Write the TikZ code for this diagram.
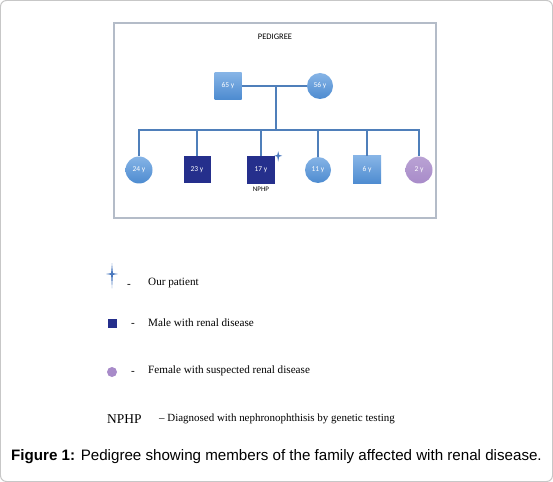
\documentclass[tikz,border=0pt]{standalone}
\usepackage{fontspec}
\setmainfont{Liberation Serif}
\newfontfamily\capfont{Liberation Sans}
\newfontfamily\boxfont{Carlito}
\usetikzlibrary{positioning,calc}
\definecolor{linkblue}{HTML}{4F7FBA}
\definecolor{frameblue}{HTML}{B4BCC8}
\definecolor{navy}{HTML}{252F8C}
\definecolor{lightblue}{HTML}{86B4E6}
\definecolor{midblue}{HTML}{4D8BD0}
\definecolor{lilac}{HTML}{A88BC9}
\definecolor{starblue}{HTML}{4A78BE}

\tikzset{
  person/.style={inner sep=0pt, text=white, font=\boxfont\fontsize{7.5}{8}\selectfont},
  boy/.style={person, rectangle, minimum size=27bp, top color=lightblue, bottom color=midblue},
  girl/.style={person, circle, minimum size=27bp, top color=lightblue, bottom color=midblue},
  sickboy/.style={person, rectangle, minimum size=27bp, fill=navy},
  sickgirl/.style={person, circle, minimum size=27bp, top color=lilac!80!white, bottom color=lilac},
  link/.style={draw=linkblue, line width=1.3bp},
  legend/.style={anchor=west, font=\fontsize{11.2}{13}\selectfont, inner sep=0pt},
}
\newcommand{\patientmark}[3]{%
  \fill[starblue] (#1) ++(0,-#2) -- ++(0.9,#2-0.9) -- ++(#3-0.9,0.9) -- ++(-#3+0.9,0.9)
    -- ++(-0.9,#2*1.3-0.9) -- ++(-0.9,-#2*1.3+0.9) -- ++(-#3+0.9,-0.9) -- ++(#3-0.9,-0.9) -- cycle;}

\begin{document}
\begin{tikzpicture}[x=1bp,y=-1bp]
    \useasboundingbox (0,0) rectangle (553,482);
    \draw[black!22, line width=1bp, rounded corners=6bp] (0.5,0.5) rectangle (552.5,481.5);
    \draw[frameblue, line width=1.4bp] (114,23) rectangle (436,218);
    \node[font=\boxfont\fontsize{8.5}{9}\selectfont] (T) at (275,37) {PEDIGREE};

    \node[boy] (F) at (228,86) {65 y};
    \node[girl, minimum size=26bp] (M) at (320,86) {56 y};
    \coordinate (J) at (276,130);

    \node[girl] (C1) at (139,170) {24 y};
    \node[sickboy] (C2) at (197,170) {23 y};
    \node[sickboy, minimum size=28bp] (C3) at (261,170) {17 y};
    \node[girl, minimum size=26bp] (C4) at (318,170) {11 y};
    \node[boy, minimum size=28bp] (C5) at (367,170) {6 y};
    \node[sickgirl] (C6) at (419,170) {2 y};
    \node[below=3bp of C3, font=\boxfont\fontsize{7}{8}\selectfont, inner sep=0pt] (NP) {NPHP};
    \patientmark{$(C3.north east)+(3,0)$}{4.5}{4}

    \draw[link] (F.east) -- (M.west);
    \draw[link] (F.east -| J) -- (J);
    \foreach \c in {C1,C2,C3,C4,C5,C6}
      \draw[link] (J) -| (\c.north);

    \patientmark{112,274}{11}{6}
    \node[legend] (D1) at (127,286) {-};
    \node[legend] (L1) at (148,283) {Our patient};

    \node[fill=navy, minimum size=9bp, inner sep=0pt] (S2) at (112,323) {};
    \node[legend] (D2) at (131,325) {-};
    \node[legend] (L2) at (148,323) {Male with renal disease};

    \node[circle, fill=lilac, minimum size=10bp, inner sep=0pt] (S3) at (112,372) {};
    \node[legend] (D3) at (131,373) {-};
    \node[legend] (L3) at (148,371) {Female with suspected renal disease};

    \node[legend, font=\fontsize{13.5}{14}\selectfont] (S4) at (107,419) {NPHP};
    \node[legend, font=\fontsize{11}{13}\selectfont] (L4) at (159,419) {– Diagnosed with nephronophthisis by genetic testing};

    \node[font=\capfont\fontsize{15.2}{17}\selectfont] (CAP) at (276.5,457)
      {\textbf{Figure 1:} Pedigree showing members of the family affected with renal disease.};
\end{tikzpicture}
\end{document}
